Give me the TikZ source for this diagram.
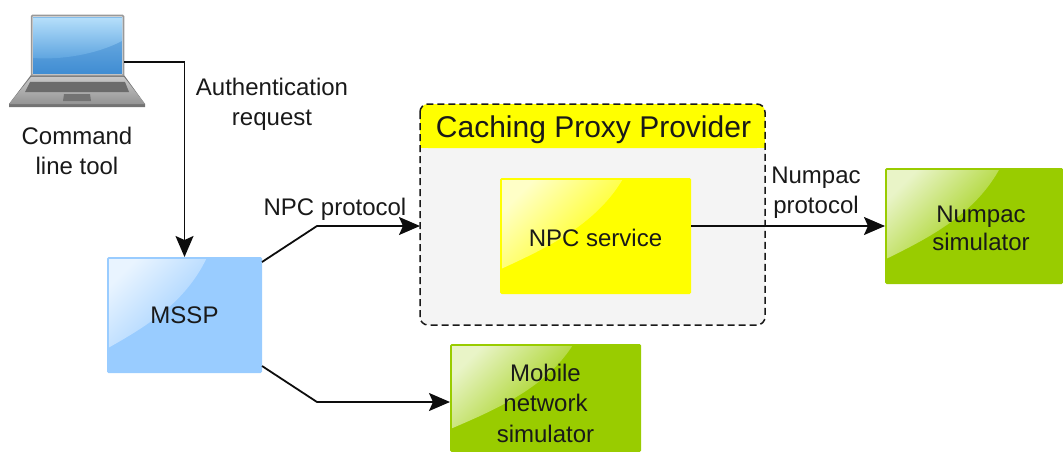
\documentclass[tikz,border=0pt]{standalone}
\usepackage{fontspec}
\setmainfont{Liberation Sans}
\usetikzlibrary{arrows.meta,calc}
\definecolor{boxblue}{HTML}{99CCFF}
\definecolor{boxgreen}{HTML}{99CC00}
\definecolor{boxyellow}{HTML}{FFFF00}
\definecolor{groupgray}{HTML}{F4F4F4}
\definecolor{scrtop}{HTML}{B4DEFA}
\definecolor{scrmid}{HTML}{5CA3DF}
\definecolor{scrlow}{HTML}{7DB8E8}
\definecolor{scrbot}{HTML}{3F8CD2}
\newcommand{\glossbox}[8]{% name, x1, y1, x2, y2, colour, text, label shift
  \node[boxnode, fill=#6, minimum width=#4-#2, minimum height=#5-#3] (#1) at ({(#2+#4)/2},{(#3+#5)/2}) {};
  \shade[left color=white!78!#6, middle color=white!14!#6, right color=#6, shading angle=45]
    ({#2+2},{#3+2}) -- ({#2+0.64*(#4-#2)},{#3+2})
    .. controls ({#2+0.5*(#4-#2)},{#3+0.40*(#5-#3)}) and ({#2+0.25*(#4-#2)},{#3+0.6*(#5-#3)}) .. ({#2+2},{#3+0.78*(#5-#3)}) -- cycle;
  \node[lbl,#8] at (#1.center) {#7};
}
\tikzset{
  boxnode/.style={draw=none, inner sep=0pt, outer sep=0pt, rectangle, rounded corners=1.5pt},
  lbl/.style={font=\fontsize{24}{30}\selectfont, align=center, inner sep=0pt, text=black!90},
  conn/.style={draw=black!95, line width=1.8pt, -{Stealth[length=21pt,width=18pt,inset=4pt]}},
}
\begin{document}
\begin{tikzpicture}[x=1pt,y=-1pt]
\useasboundingbox (0,0) rectangle (1063,452);
% laptop
\fill[black!55] (31,75) -- (124,75) -- (145,104) -- (145,107) -- (9,107) -- (9,104) -- cycle;
\shade[top color=black!22, bottom color=black!42] (31,77) -- (124,77) -- (145,104) -- (9,104) -- cycle;
\fill[black!58] (30,82) -- (125,82) -- (129,92) -- (25,92) -- cycle;
\fill[black!55] (64,94) -- (90,94) -- (91,101) -- (63,101) -- cycle;
\node[draw=black!40, line width=1.5pt, rounded corners=1pt, fill=black!15, minimum width=92pt, minimum height=60pt, inner sep=0pt, outer sep=0pt] (laptop) at (77.5,45.5) {};
\shade[top color=scrlow, bottom color=scrbot] (33,18) rectangle (122,74);
\shade[top color=scrtop, bottom color=scrmid] (33,18) -- (122,18) -- (122,41) .. controls (95,55) and (60,60) .. (33,58) -- cycle;
\coordinate (lapout) at (124,62);
\node[lbl] (cmd) at (77,151) {Command\\line tool};
% group
\fill[groupgray, rounded corners=8pt] (420,104) rectangle (765,325);
\fill[boxyellow, rounded corners=8pt] (420,148) -- (420,104) -- (765,104) -- (765,148) -- cycle;
\fill[boxyellow] (420,135) rectangle (765,148);
\node[draw=none, inner sep=0pt, minimum width=345pt, minimum height=221pt, outer sep=0pt] (group) at (592.5,214.5) {};
\draw[black!90, line width=1.5pt, dash pattern=on 7pt off 4pt, rounded corners=8pt] (group.north west) rectangle (group.south east);
\node[font=\fontsize{30}{32}\selectfont, inner sep=0pt, text=black!90] (grouptitle) at (593.5,129.5) {Caching Proxy Provider};
% boxes
\glossbox{mssp}{107}{257}{262}{373}{boxblue}{MSSP}{}
\glossbox{npc}{500}{178}{691}{294}{boxyellow}{NPC service}{yshift=-2pt}
\glossbox{numsim}{885}{168}{1063}{284}{boxgreen}{Numpac\\[-2pt]simulator}{xshift=7pt,yshift=-2pt}
\glossbox{mobile}{450}{344}{641}{452}{boxgreen}{Mobile\\[0.5pt]network\\[0.5pt]simulator}{yshift=-5pt}
% connectors
\coordinate (mup) at ($(mssp.north east)+(0,5)$);
\coordinate (mdn) at ($(mssp.south east)+(0,-7)$);
\coordinate (bendup) at (317,226);
\coordinate (benddn) at (317,402);
\draw[conn] (lapout) -| (mssp.north);
\draw[conn] (mup) -- (bendup) -- (group.west |- bendup);
\draw[conn] (mdn) -- (benddn) -- (mobile.west |- benddn);
\draw[conn] (npc.east |- bendup) -- (numsim.west |- bendup);
% labels
\node[lbl] (auth) at (272,104) {Authentication\\request};
\node[lbl] (npcp) at (335,209) {NPC protocol};
\node[lbl] (nump) at (816,192.5) {Numpac\\protocol};
\end{tikzpicture}
\end{document}
